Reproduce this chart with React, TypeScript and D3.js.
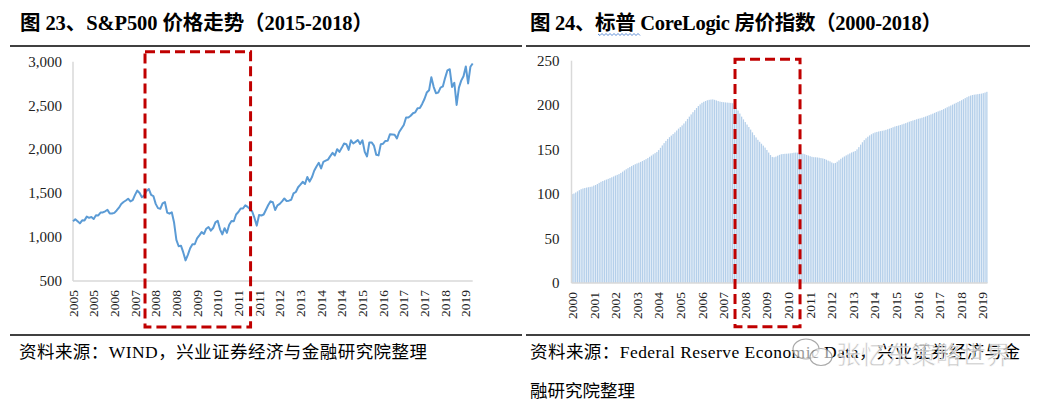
import * as React from "react";
import { format, line, scaleBand, scaleLinear } from "d3";

// S&P 500 month-end close, Jan 2005 – Jul 2019
const spxValues = [
  1181, 1204, 1181, 1157, 1192, 1191, 1234, 1220, 1229, 1207, 1249, 1248,
  1280, 1281, 1295, 1311, 1270, 1270, 1277, 1304, 1336, 1378, 1401, 1418,
  1438, 1407, 1421, 1482, 1531, 1503, 1455, 1474, 1527, 1549, 1481, 1468,
  1379, 1331, 1323, 1386, 1400, 1280, 1267, 1283, 1166, 969, 896, 903,
  826, 735, 798, 873, 919, 919, 987, 1021, 1057, 1036, 1096, 1115,
  1074, 1104, 1169, 1187, 1089, 1031, 1102, 1049, 1141, 1183, 1181, 1258,
  1286, 1327, 1326, 1364, 1345, 1321, 1292, 1219, 1131, 1253, 1247, 1258,
  1312, 1366, 1408, 1398, 1310, 1362, 1379, 1407, 1441, 1412, 1416, 1426,
  1498, 1515, 1569, 1598, 1631, 1606, 1686, 1633, 1682, 1757, 1806, 1848,
  1783, 1859, 1872, 1884, 1924, 1960, 1931, 2003, 1972, 2018, 2068, 2059,
  1995, 2105, 2068, 2086, 2107, 2063, 2104, 1972, 1920, 2079, 2080, 2044,
  1940, 1932, 2060, 2065, 2097, 2099, 2174, 2171, 2168, 2126, 2199, 2239,
  2279, 2364, 2363, 2384, 2412, 2423, 2470, 2472, 2519, 2575, 2648, 2674,
  2824, 2714, 2641, 2648, 2705, 2718, 2816, 2902, 2914, 2712, 2760, 2507,
  2704, 2784, 2834, 2946, 2752, 2942, 2980,
];
const spxTickLabels = [
  "2005", "2005", "2006", "2007", "2008", "2008", "2009", "2010", "2011", "2011",
  "2012", "2013", "2014", "2014", "2015", "2016", "2017", "2017", "2018", "2019",
];
const spxTickEvery = 9;
const spxYTicks = [500, 1000, 1500, 2000, 2500, 3000];

// S&P CoreLogic Case-Shiller index, monthly, Jan 2000 – Mar 2019
const hpiValues = [
  100.0, 100.6, 101.8, 103.1, 104.4, 105.5, 106.3, 106.8, 107.3, 107.7, 108.1, 108.4,
  109.5, 110.2, 111.3, 112.6, 113.8, 114.7, 115.5, 116.3, 117.1, 118.0, 118.9, 119.8,
  120.8, 121.6, 122.5, 123.8, 125.2, 126.6, 127.9, 129.2, 130.4, 131.5, 132.6, 133.6,
  134.5, 135.3, 136.2, 137.2, 138.2, 139.3, 140.5, 141.9, 143.3, 144.7, 146.0, 147.4,
  149.5, 152.0, 154.7, 157.3, 159.8, 162.0, 164.0, 165.8, 167.5, 169.4, 171.5, 173.6,
  175.3, 177.2, 179.4, 181.9, 184.5, 187.1, 189.6, 192.1, 194.5, 196.8, 199.0, 200.9,
  202.6, 203.8, 204.7, 205.5, 206.0, 206.3, 206.5, 206.0, 205.3, 204.6, 204.0, 203.6,
  203.3, 203.1, 202.9, 202.7, 202.5, 202.2, 199.8, 197.0, 194.0, 190.6, 187.1, 184.0,
  181.0, 178.2, 175.4, 172.5, 169.4, 166.3, 163.7, 161.0, 158.8, 156.6, 154.5, 152.3,
  149.6, 146.7, 143.9, 141.8, 141.4, 142.1, 143.2, 144.1, 144.8, 145.1, 145.3, 145.4,
  145.6, 145.8, 146.1, 146.5, 146.7, 146.6, 146.3, 145.9, 145.4, 144.8, 144.0, 143.4,
  142.6, 141.9, 141.5, 141.4, 141.2, 140.9, 140.5, 140.1, 139.5, 138.6, 137.6, 136.8,
  135.5, 134.6, 135.0, 136.4, 138.0, 139.7, 141.1, 142.3, 143.5, 144.6, 145.7, 146.8,
  147.6, 148.4, 150.3, 152.8, 155.6, 158.3, 160.7, 162.7, 164.5, 166.0, 167.3, 168.4,
  169.3, 169.9, 170.4, 170.8, 171.2, 171.6, 172.2, 172.9, 173.6, 174.4, 175.2, 176.0,
  176.6, 177.1, 177.7, 178.4, 179.1, 179.8, 180.6, 181.4, 182.1, 182.8, 183.4, 184.1,
  184.7, 185.2, 185.8, 186.5, 187.2, 188.0, 188.8, 189.6, 190.4, 191.3, 192.2, 193.0,
  193.8, 194.6, 195.5, 196.5, 197.6, 198.6, 199.6, 200.6, 201.6, 202.6, 203.6, 204.6,
  205.6, 206.7, 207.9, 209.0, 210.0, 210.8, 211.4, 211.8, 212.1, 212.4, 212.7, 213.0,
  213.5, 214.2, 215.0,
];
const hpiTickLabels = [
  "2000", "2001", "2002", "2003", "2004", "2005", "2006", "2007", "2008", "2009",
  "2010", "2011", "2012", "2013", "2014", "2015", "2016", "2017", "2018", "2019",
];
const hpiTickEvery = 12;
const hpiYTicks = [0, 50, 100, 150, 200, 250];

const SERIF = "'Liberation Serif', 'Times New Roman', 'Noto Sans CJK SC', serif";
const AXIS = "#d9d9d9";
const BOX = "#c00000";

function wavy(x0: number, x1: number, y: number) {
  let d = `M${x0},${y}`;
  for (let x = x0, k = 0; x < x1; x += 2, k++) {
    d += ` L${x + 2},${y + (k % 2 === 0 ? 1.5 : -0.5)}`;
  }
  return d;
}

function SpxChart() {
  const x = scaleLinear().domain([0, spxValues.length - 1]).range([73, 472.7]);
  const y = scaleLinear().domain([500, 3000]).range([281, 61.7]);
  const path = line<number>()
    .x((_, i) => x(i))
    .y((d) => y(d))(spxValues);

  return (
    <g>
      <line x1={x(0)} x2={x(0)} y1={y(3000)} y2={y(500)} stroke={AXIS} strokeWidth={1.5} />
      <line x1={x(0)} x2={x.range()[1]} y1={y(500)} y2={y(500)} stroke={AXIS} strokeWidth={1.5} />
      {spxYTicks.map((t) => (
        <text key={t} x={x(0) - 11} y={y(t)} textAnchor="end" dominantBaseline="central"
          fontSize={15} fontFamily={SERIF} fill="#222">
          {format(",")(t)}
        </text>
      ))}
      {spxTickLabels.map((lab, k) => (
        <text key={k} transform={`translate(${x(k * spxTickEvery)},${y(500) + 9}) rotate(-90)`}
          textAnchor="end" dominantBaseline="central" fontSize={13.5} fontFamily={SERIF} fill="#222">
          {lab}
        </text>
      ))}
      <path d={path || ""} fill="none" stroke="#5b9bd5" strokeWidth={2} strokeLinejoin="round" />
      <rect x={x(31.35)} y={51.7} width={x(77.3) - x(31.35)} height={327 - 51.7}
        fill="none" stroke={BOX} strokeWidth={3} strokeDasharray="10 5" />
    </g>
  );
}

function HpiChart() {
  const n = hpiValues.length;
  const xb = scaleBand<number>().domain(hpiValues.map((_, i) => i)).range([571.5, 987.5]).paddingInner(0.3);
  const xl = scaleLinear().domain([-0.5, n - 0.5]).range([571.5, 987.5]);
  const y = scaleLinear().domain([0, 250]).range([283, 60.7]);

  return (
    <g>
      {hpiValues.map((v, i) => (
        <rect key={i} x={xb(i)} y={y(v)} width={xb.bandwidth()} height={y(0) - y(v)} fill="#b4cfea" />
      ))}
      <line x1={571.5} x2={571.5} y1={y(250)} y2={y(0)} stroke={AXIS} strokeWidth={1.5} />
      <line x1={571.5} x2={987.5} y1={y(0)} y2={y(0)} stroke={AXIS} strokeWidth={1.5} />
      {hpiYTicks.map((t) => (
        <text key={t} x={571.5 - 12} y={y(t)} textAnchor="end" dominantBaseline="central"
          fontSize={15} fontFamily={SERIF} fill="#222">
          {t}
        </text>
      ))}
      {hpiTickLabels.map((lab, k) => (
        <text key={k} transform={`translate(${xl(k * hpiTickEvery)},${y(0) + 9}) rotate(-90)`}
          textAnchor="end" dominantBaseline="central" fontSize={13.5} fontFamily={SERIF} fill="#222">
          {lab}
        </text>
      ))}
      <rect x={xl(90.3)} y={59.3} width={xl(126.4) - xl(90.3)} height={326.7 - 59.3}
        fill="none" stroke={BOX} strokeWidth={3} strokeDasharray="10 5" />
    </g>
  );
}

export default function App() {
  return (
    <svg width={1039} height={405} style={{ position: "absolute", left: 0, top: 0, background: "#fff" }}>
      <rect width={1039} height={405} fill="#fff" />
      {/* titles */}
      <text x={20} y={30} fontSize={20.5} fontWeight="bold" fontFamily={SERIF} fill="#000"
        textLength={353} lengthAdjust="spacing">
        图 23、S&amp;P500 价格走势（2015-2018）
      </text>
      <text x={530} y={30} fontSize={20.5} fontWeight="bold" fontFamily={SERIF} fill="#000"
        textLength={412} lengthAdjust="spacing">
        图 24、标普 CoreLogic 房价指数（2000-2018）
      </text>
      <path d={wavy(598, 640, 34)} fill="none" stroke="#4a7fd0" strokeWidth={0.9} />

      {/* rules */}
      <line x1={10} x2={522} y1={46} y2={46} stroke="#000" strokeWidth={1.3} />
      <line x1={10} x2={522} y1={335} y2={335} stroke="#000" strokeWidth={1.3} />
      <line x1={526} x2={1030} y1={46} y2={46} stroke="#000" strokeWidth={1.3} />
      <line x1={526} x2={1030} y1={335} y2={335} stroke="#000" strokeWidth={1.3} />

      <SpxChart />
      <HpiChart />

      {/* sources */}
      <text x={19} y={358} fontSize={17.5} fontFamily={SERIF} fill="#000"
        textLength={408} lengthAdjust="spacing">
        资料来源：WIND，兴业证券经济与金融研究院整理
      </text>
      <text x={530} y={358} fontSize={17.5} fontFamily={SERIF} fill="#000"
        textLength={490} lengthAdjust="spacing">
        资料来源：Federal Reserve Economic Data，兴业证券经济与金
      </text>
      <text x={530} y={397} fontSize={17.5} fontFamily={SERIF} fill="#000">
        融研究院整理
      </text>

      {/* watermark */}
      <g opacity={0.85}>
        <ellipse cx={806} cy={349} rx={13} ry={10} fill="#fff" fillOpacity={0.7} stroke="#9a9a9a" strokeWidth={1.2} />
        <ellipse cx={821} cy={357} rx={11} ry={8.5} fill="#fff" fillOpacity={0.7} stroke="#9a9a9a" strokeWidth={1.2} />
        <text x={836} y={364} fontSize={25} fontFamily="'Noto Sans CJK SC', sans-serif"
          fill="#bdbdbd" stroke="#fff" strokeWidth={0.6}>
          张忆东策略世界
        </text>
      </g>
    </svg>
  );
}
